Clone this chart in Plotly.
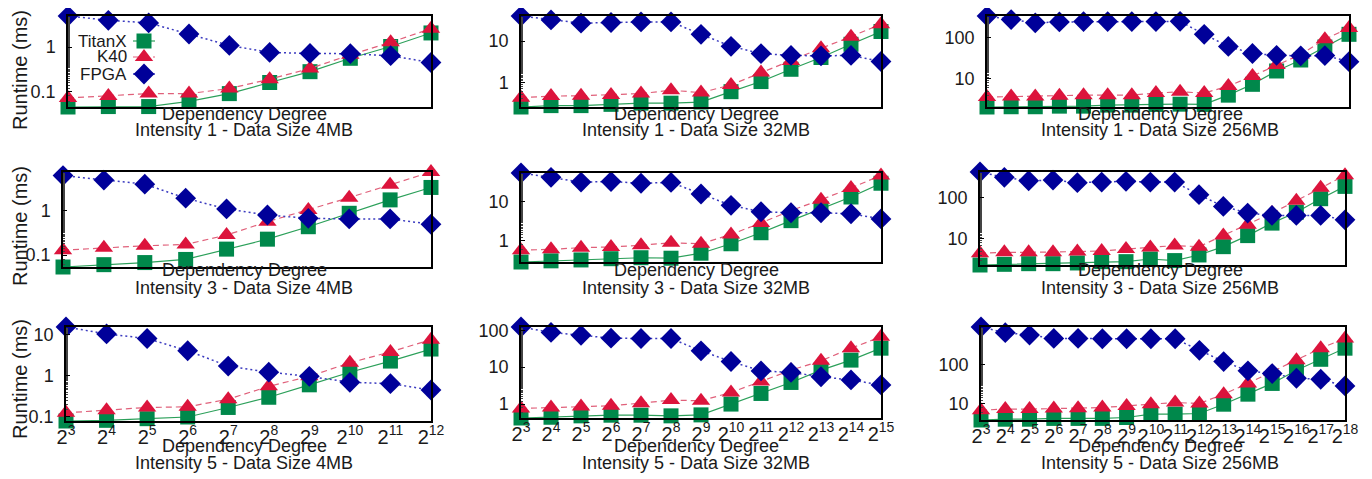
import math
import plotly.graph_objects as go

# ---------------- data ----------------
exp_4mb = list(range(3, 13))
exp_32mb = list(range(3, 16))
exp_256mb = list(range(3, 19))

series_names = ["TitanX", "K40", "FPGA"]

titanx_i1_4mb = [0.045, 0.046, 0.046, 0.060, 0.090, 0.16, 0.28, 0.56, 1.03, 2.08]
k40_i1_4mb = [0.072, 0.079, 0.09, 0.09, 0.117, 0.19, 0.33, 0.67, 1.28, 2.6]
fpga_i1_4mb = [5.0, 4.0, 3.5, 1.97, 1.09, 0.76, 0.72, 0.71, 0.64, 0.45]

titanx_i1_32mb = [0.25, 0.27, 0.27, 0.29, 0.31, 0.31, 0.33, 0.59, 1.04, 2.07, 4.0, 8.4, 17.2]
k40_i1_32mb = [0.42, 0.46, 0.47, 0.49, 0.53, 0.64, 0.56, 0.86, 1.72, 3.3, 6.7, 12.9, 26]
fpga_i1_32mb = [41, 33, 27.4, 28.5, 29.5, 29.5, 14.7, 7.5, 5.0, 4.5, 4.4, 4.5, 3.2]

titanx_i1_256mb = [2.05, 2.08, 2.08, 2.15, 2.15, 2.28, 2.28, 2.37, 2.4, 2.37, 3.98, 7.3, 15.4, 28.5, 59, 120]
k40_i1_256mb = [3.57, 3.7, 3.7, 3.85, 3.98, 3.98, 3.98, 4.47, 4.8, 4.47, 6.6, 11.6, 21.5, 39, 91, 170]
fpga_i1_256mb = [335, 275, 229, 240, 245, 245, 245, 245, 248, 120, 61, 41, 37, 36, 36.6, 26]

titanx_i3_4mb = [0.054, 0.061, 0.068, 0.08, 0.137, 0.23, 0.44, 0.885, 1.78, 3.4]
k40_i3_4mb = [0.13, 0.147, 0.163, 0.175, 0.285, 0.57, 1.05, 2.0, 3.9, 7.6]
fpga_i3_4mb = [6.3, 5.0, 4.04, 1.94, 1.11, 0.81, 0.68, 0.66, 0.66, 0.50]

titanx_i3_32mb = [0.28, 0.30, 0.316, 0.34, 0.36, 0.35, 0.47, 0.82, 1.57, 3.2, 6.5, 12.9, 29]
k40_i3_32mb = [0.56, 0.59, 0.65, 0.68, 0.75, 0.87, 0.82, 1.42, 2.8, 5.8, 11, 21.9, 46]
fpga_i3_32mb = [53, 41, 31, 32, 29, 30.5, 15.4, 7.9, 5.4, 5.1, 5.1, 4.8, 3.55]

titanx_i3_256mb = [2.35, 2.44, 2.53, 2.53, 2.63, 2.83, 2.83, 3.28, 3.0, 4.1, 6.5, 12, 24, 44, 93, 184]
k40_i3_256mb = [4.5, 4.75, 4.75, 4.75, 4.94, 5.13, 5.7, 6.2, 6.9, 6.5, 12, 21.9, 41.8, 83, 170, 340]
fpga_i3_256mb = [409, 304, 252, 261, 226, 234, 244, 234, 234, 116, 60.6, 42, 36.7, 36.7, 36.7, 28.8]

titanx_i5_4mb = [0.08, 0.083, 0.091, 0.1, 0.17, 0.3, 0.6, 1.21, 2.25, 4.4]
k40_i5_4mb = [0.126, 0.146, 0.17, 0.176, 0.27, 0.55, 0.96, 2.05, 3.75, 7.4]
fpga_i5_4mb = [15.0, 10.2, 7.9, 4.0, 1.7, 1.21, 0.96, 0.69, 0.64, 0.45]

titanx_i5_32mb = [0.42, 0.44, 0.48, 0.50, 0.50, 0.48, 0.51, 1.0, 1.94, 3.85, 8.3, 15.5, 32.6]
k40_i5_32mb = [0.76, 0.81, 0.86, 0.9, 1.06, 1.28, 1.23, 2.07, 4.1, 8.3, 14.8, 32.6, 66]
fpga_i5_32mb = [122, 87, 73, 60.7, 59.6, 59.6, 27.6, 14.2, 7.9, 7.2, 5.5, 4.5, 3.3]

titanx_i5_256mb = [3.8, 3.98, 3.98, 4.17, 4.17, 4.17, 4.4, 5.37, 5.37, 5.57, 9.6, 17.3, 32.5, 70.5, 134, 257]
k40_i5_256mb = [6.77, 7.2, 7.2, 7.5, 7.6, 7.9, 8.7, 9.6, 10.6, 10, 17.3, 32.5, 65, 126, 257, 457]
fpga_i5_256mb = [891, 638, 556, 457, 457, 447, 447, 447, 447, 227, 117, 68, 58, 44, 41.5, 28]

intensities = [1, 3, 5]
sizes = ["4MB", "32MB", "256MB"]
y_tick_vals = [0.1, 1, 10, 100]
y_tick_text = ["0.1", "1", "10", "100"]

# ---------------- layout geometry (pixels) ----------------
W, H = 1372, 479
# (left, right, top, bottom) of each plot frame, row-major
frames = [
    (60, 423, 8, 99), (513, 873, 8, 99), (979, 1341, 8, 99),
    (55, 423, 164, 259), (513, 873, 165, 254), (972, 1337, 164, 257),
    (58, 423, 319, 413), (513, 873, 319, 410), (973, 1337, 319, 412),
]
col_centers = [236, 688, 1152]
row_dep_y = [106, 262, 438]
row_title_y = [122, 280, 455]
row_ylabel_y = [62, 218, 371]

panel_data = [
    (exp_4mb, titanx_i1_4mb, k40_i1_4mb, fpga_i1_4mb),
    (exp_32mb, titanx_i1_32mb, k40_i1_32mb, fpga_i1_32mb),
    (exp_256mb, titanx_i1_256mb, k40_i1_256mb, fpga_i1_256mb),
    (exp_4mb, titanx_i3_4mb, k40_i3_4mb, fpga_i3_4mb),
    (exp_32mb, titanx_i3_32mb, k40_i3_32mb, fpga_i3_32mb),
    (exp_256mb, titanx_i3_256mb, k40_i3_256mb, fpga_i3_256mb),
    (exp_4mb, titanx_i5_4mb, k40_i5_4mb, fpga_i5_4mb),
    (exp_32mb, titanx_i5_32mb, k40_i5_32mb, fpga_i5_32mb),
    (exp_256mb, titanx_i5_256mb, k40_i5_256mb, fpga_i5_256mb),
]

GREEN = "#00884B"
RED = "#DC143C"
BLUE = "#000099"
FONT = "Liberation Sans"
TXT = "#1a1a1a"

styles = {
    "TitanX": dict(line=dict(color="#2ca05a", width=1.2), marker=dict(symbol="square", size=15, color=GREEN)),
    "K40": dict(line=dict(color="#e0607a", width=1.2, dash="6px,4px"), marker=dict(symbol="triangle-up", size=16, color=RED)),
    "FPGA": dict(line=dict(color="#3b3bc0", width=1.5, dash="2px,3px"), marker=dict(symbol="diamond", size=16, color=BLUE)),
}

fig = go.Figure()
layout = dict(
    template="none",
    width=W, height=H,
    margin=dict(l=0, r=0, t=0, b=0, pad=0),
    paper_bgcolor="white", plot_bgcolor="rgba(0,0,0,0)",
    showlegend=False,
    font=dict(family=FONT, size=18, color=TXT),
)
annotations = []
EPS = 1e-4

for i, (exps, tx, k4, fp) in enumerate(panel_data):
    n = i + 1
    sfx = "" if n == 1 else str(n)
    row, col = divmod(i, 3)
    l, r, t, b = frames[i]
    xs = [2 ** e for e in exps]
    all_vals = tx + k4 + fp
    # gnuplot-style autoscale: y range spans exactly the data extremes
    y_lo = math.log10(min(all_vals)) - EPS
    y_hi = math.log10(max(all_vals)) + EPS
    for name, vals in zip(series_names, (tx, k4, fp)):
        st = styles[name]
        fig.add_trace(go.Scatter(
            x=xs, y=vals, mode="lines+markers", name=name,
            line=st["line"], marker=st["marker"],
            xaxis="x" + sfx, yaxis="y" + sfx, cliponaxis=False,
        ))
    layout["xaxis" + sfx] = dict(
        type="log", domain=[l / W, r / W],
        range=[math.log10(xs[0]) - EPS, math.log10(xs[-1]) + EPS],
        anchor="y" + sfx, automargin=False,
        showline=True, linecolor="black", linewidth=1.5, mirror=True,
        showgrid=False, zeroline=False,
        ticks="", tickvals=xs, tickangle=0,
        ticktext=[f"2<sup>{e}</sup>" for e in exps],
        showticklabels=(row == 2),
        ticklabelstandoff=-3,
        tickfont=dict(family=FONT, size=20, color=TXT),
    )
    layout["yaxis" + sfx] = dict(
        type="log", domain=[1 - b / H, 1 - t / H],
        range=[y_lo, y_hi],
        anchor="x" + sfx, automargin=False,
        showline=True, linecolor="black", linewidth=1.5, mirror=True,
        showgrid=False, zeroline=False,
        ticks="inside", ticklen=4, tickcolor="black",
        tickvals=y_tick_vals, ticktext=y_tick_text,
        ticklabelstandoff=7,
        minor=dict(ticks="inside", ticklen=2, tickcolor="#444", showgrid=False),
        tickfont=dict(family=FONT, size=18, color=TXT),
    )
    annotations.append(dict(
        text="Dependency Degree", x=col_centers[col] / W, y=1 - row_dep_y[row] / H,
        xref="paper", yref="paper", showarrow=False, xanchor="center", yanchor="middle",
        font=dict(family=FONT, size=18, color=TXT),
    ))
    annotations.append(dict(
        text=f"Intensity {intensities[row]} - Data Size {sizes[col]}",
        x=col_centers[col] / W, y=1 - row_title_y[row] / H,
        xref="paper", yref="paper", showarrow=False, xanchor="center", yanchor="middle",
        font=dict(family=FONT, size=18, color=TXT),
    ))

for row in range(3):
    annotations.append(dict(
        text="Runtime (ms)", x=12 / W, y=1 - row_ylabel_y[row] / H,
        xref="paper", yref="paper", showarrow=False, textangle=-90,
        xanchor="center", yanchor="middle",
        font=dict(family=FONT, size=20, color=TXT),
    ))

# ---------------- legend (inside first panel, gnuplot style) ----------------
leg_y = [33, 49, 66]
layout["xaxis10"] = dict(domain=[0, 1], range=[0, W], visible=False, anchor="y10",
                         fixedrange=True, automargin=False)
layout["yaxis10"] = dict(domain=[0, 1], range=[H, 0], visible=False, anchor="x10",
                         fixedrange=True, automargin=False)
for name, yy in zip(series_names, leg_y):
    st = styles[name]
    fig.add_trace(go.Scatter(x=[125, 147], y=[yy, yy], mode="lines", line=st["line"],
                             xaxis="x10", yaxis="y10", hoverinfo="skip"))
    fig.add_trace(go.Scatter(x=[136], y=[yy], mode="markers", marker=st["marker"],
                             xaxis="x10", yaxis="y10", hoverinfo="skip", cliponaxis=False))
    annotations.append(dict(
        text=name, x=121 / W, y=1 - yy / H, xref="paper", yref="paper",
        showarrow=False, xanchor="right", yanchor="middle",
        font=dict(family=FONT, size=17, color=TXT),
    ))

layout["annotations"] = annotations
fig.update_layout(**layout)
fig.write_html("out.html")
